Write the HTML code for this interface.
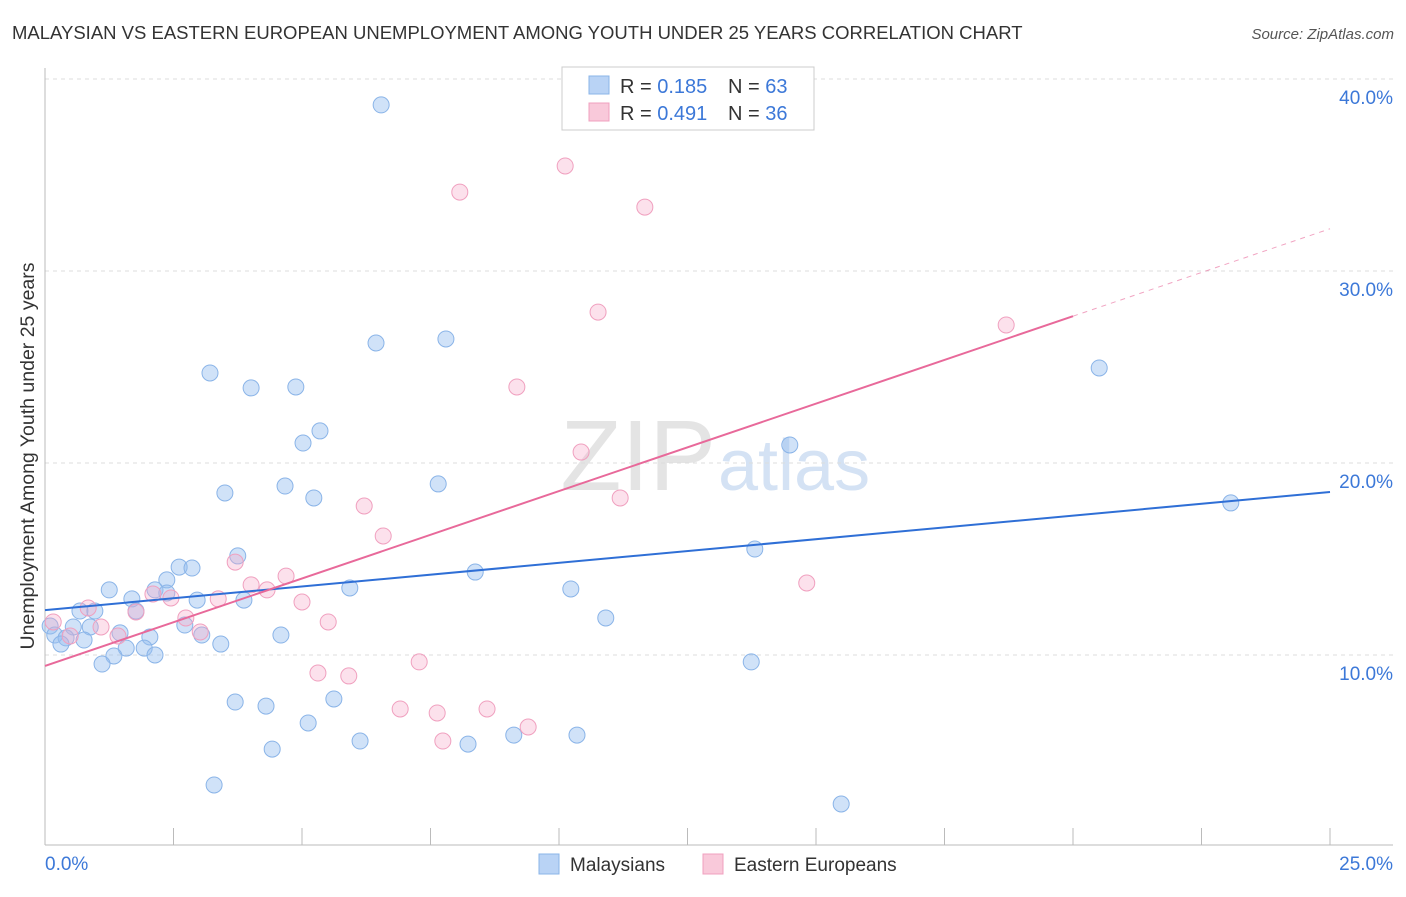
<!DOCTYPE html>
<html><head><meta charset="utf-8"><style>
body{margin:0;background:#fff;font-family:"Liberation Sans",sans-serif;}
svg text{font-family:"Liberation Sans",sans-serif;}
</style></head><body>
<svg id="chart" width="1406" height="892" xmlns="http://www.w3.org/2000/svg">
<text x="12" y="39" font-size="18.5" fill="#333">MALAYSIAN VS EASTERN EUROPEAN UNEMPLOYMENT AMONG YOUTH UNDER 25 YEARS CORRELATION CHART</text>
<text x="1394" y="39" font-size="15" fill="#555" font-style="italic" text-anchor="end">Source: ZipAtlas.com</text>
<text x="716" y="490" font-size="100" fill="#e4e4e4" text-anchor="end" font-family="Liberation Serif">ZIP</text>
<text x="718" y="490" font-size="72" fill="#d4e2f4">atlas</text>
<g id="grid"></g>
<g id="marks"></g>
<text transform="translate(34,456) rotate(-90)" font-size="19.5" fill="#333" text-anchor="middle">Unemployment Among Youth under 25 years</text>
<g>
<rect x="562" y="67" width="252" height="63" fill="#fff" stroke="#ccc"/>
<rect x="589" y="76" width="20" height="18" fill="#b9d3f5" stroke="#8ab4e8"/>
<rect x="589" y="103" width="20" height="18" fill="#f9c9da" stroke="#f0a0bf"/>
<text x="620" y="93" font-size="20" fill="#333">R = <tspan fill="#3c78d8">0.185</tspan></text>
<text x="728" y="93" font-size="20" fill="#333">N = <tspan fill="#3c78d8">63</tspan></text>
<text x="620" y="120" font-size="20" fill="#333">R = <tspan fill="#3c78d8">0.491</tspan></text>
<text x="728" y="120" font-size="20" fill="#333">N = <tspan fill="#3c78d8">36</tspan></text>
</g>
<g>
<rect x="539" y="854" width="20" height="20" fill="#b9d3f5" stroke="#8ab4e8"/>
<text x="570" y="871" font-size="19" fill="#333">Malaysians</text>
<rect x="703" y="854" width="20" height="20" fill="#f9c9da" stroke="#f0a0bf"/>
<text x="734" y="871" font-size="19" fill="#333">Eastern Europeans</text>
</g>
</svg>
<script>
const xTicks=[0,25];
const yTicks=[10,20,30,40];
const blueX=[6.54,6.44,7.80,3.21,4.01,4.88,5.35,5.02,20.51,14.49,3.50,4.67,5.23,7.65,23.07,3.75,13.81,8.37,2.61,2.86,2.37,1.25,2.14,2.37,5.93,10.23,1.69,2.96,3.87,0.68,0.97,1.77,10.91,0.55,0.88,2.72,0.10,1.46,2.04,3.05,4.59,0.19,0.41,0.76,0.31,3.42,1.58,1.93,1.34,2.14,1.11,13.74,3.70,4.30,5.62,5.12,6.13,9.12,10.35,4.42,8.23,3.29,15.49];
const blueY=[38.65,26.25,26.46,24.69,23.91,23.96,21.67,21.04,24.95,20.94,18.44,18.80,18.18,18.91,17.92,15.16,15.52,14.32,14.58,14.53,13.91,13.39,13.39,13.23,13.49,13.44,12.92,12.86,12.86,12.29,12.29,12.29,11.93,11.46,11.46,11.56,11.51,11.15,10.94,11.04,11.04,11.04,10.89,10.78,10.57,10.57,10.36,10.36,9.95,10.0,9.53,9.64,7.55,7.34,7.71,6.46,5.52,5.83,5.83,5.10,5.36,3.23,2.24];
const pinkX=[10.12,8.07,11.67,10.76,18.70,9.18,10.43,11.19,6.21,6.58,3.70,4.69,14.82,4.01,4.32,2.10,2.45,3.37,5.00,0.84,1.77,2.74,5.51,1.09,3.02,1.42,0.16,0.49,7.28,5.31,5.91,6.91,7.63,8.60,9.40,7.74];
const pinkY=[35.47,34.11,33.33,27.86,27.19,23.96,20.57,18.18,17.76,16.20,14.84,14.11,13.75,13.65,13.39,13.18,12.97,12.92,12.76,12.45,12.24,11.93,11.72,11.46,11.20,10.99,11.72,10.99,9.64,9.06,8.91,7.19,6.98,7.19,6.25,5.52];
const blueTrend=[12.34,18.49];
const pinkTrend=[9.43,32.2];
const pinkSolidEnd=20;
const NS="http://www.w3.org/2000/svg";
const sx=v=>45+v*51.4, sy=v=>847-v*19.2;
function mk(tag,attrs,parent){const e=document.createElementNS(NS,tag);for(const k in attrs)e.setAttribute(k,attrs[k]);parent.appendChild(e);return e;}
const grid=document.getElementById('grid'), marks=document.getElementById('marks');
yTicks.forEach(t=>{
 const l=mk('line',{x1:45,x2:1393,y1:sy(t),y2:sy(t),stroke:'#ddd','stroke-dasharray':'4,4'},grid);
 
 
 const tx=mk('text',{x:1393,y:sy(t)+25,'font-size':19,fill:'#3c78d8','text-anchor':'end'},grid);
 tx.textContent=t.toFixed(1)+'%';
 
 
});
mk('line',{x1:45,x2:45,y1:68,y2:845,stroke:'#bbb'},grid);
mk('line',{x1:45,x2:1393,y1:845,y2:845,stroke:'#bbb'},grid);
for(let i=0;i<=10;i++){mk('line',{x1:sx(i*2.5),x2:sx(i*2.5),y1:828,y2:845,stroke:'#bbb'},grid);}
xTicks.forEach((t,i)=>{
 const tx=mk('text',{x:i?1393:45,y:870,'font-size':19,fill:'#3c78d8','text-anchor':i?'end':'start'},grid);
 tx.textContent=t.toFixed(1)+'%';
 
 
});
blueX.forEach((x,i)=>{
 const c=mk('circle',{cx:sx(x),cy:sy(blueY[i]),r:8,fill:'rgba(150,190,240,0.45)',stroke:'#8ab4e8','stroke-width':1},marks);
 
 
});
pinkX.forEach((x,i)=>{
 const c=mk('circle',{cx:sx(x),cy:sy(pinkY[i]),r:8,fill:'rgba(245,170,200,0.35)',stroke:'#f0a0bf','stroke-width':1},marks);
 
 
});
const bl=mk('line',{x1:sx(0),y1:sy(blueTrend[0]),x2:sx(25),y2:sy(blueTrend[1]),stroke:'#2f6fd6','stroke-width':2},marks);


const pm=pinkTrend[0]+(pinkTrend[1]-pinkTrend[0])*pinkSolidEnd/25;
const pl=mk('line',{x1:sx(0),y1:sy(pinkTrend[0]),x2:sx(pinkSolidEnd),y2:sy(pm),stroke:'#e8699a','stroke-width':2},marks);


const pd=mk('line',{x1:sx(pinkSolidEnd),y1:sy(pm),x2:sx(25),y2:sy(pinkTrend[1]),stroke:'#e8699a','stroke-width':1,'stroke-dasharray':'5,5','opacity':0.6},marks);


</script>
</body></html>
